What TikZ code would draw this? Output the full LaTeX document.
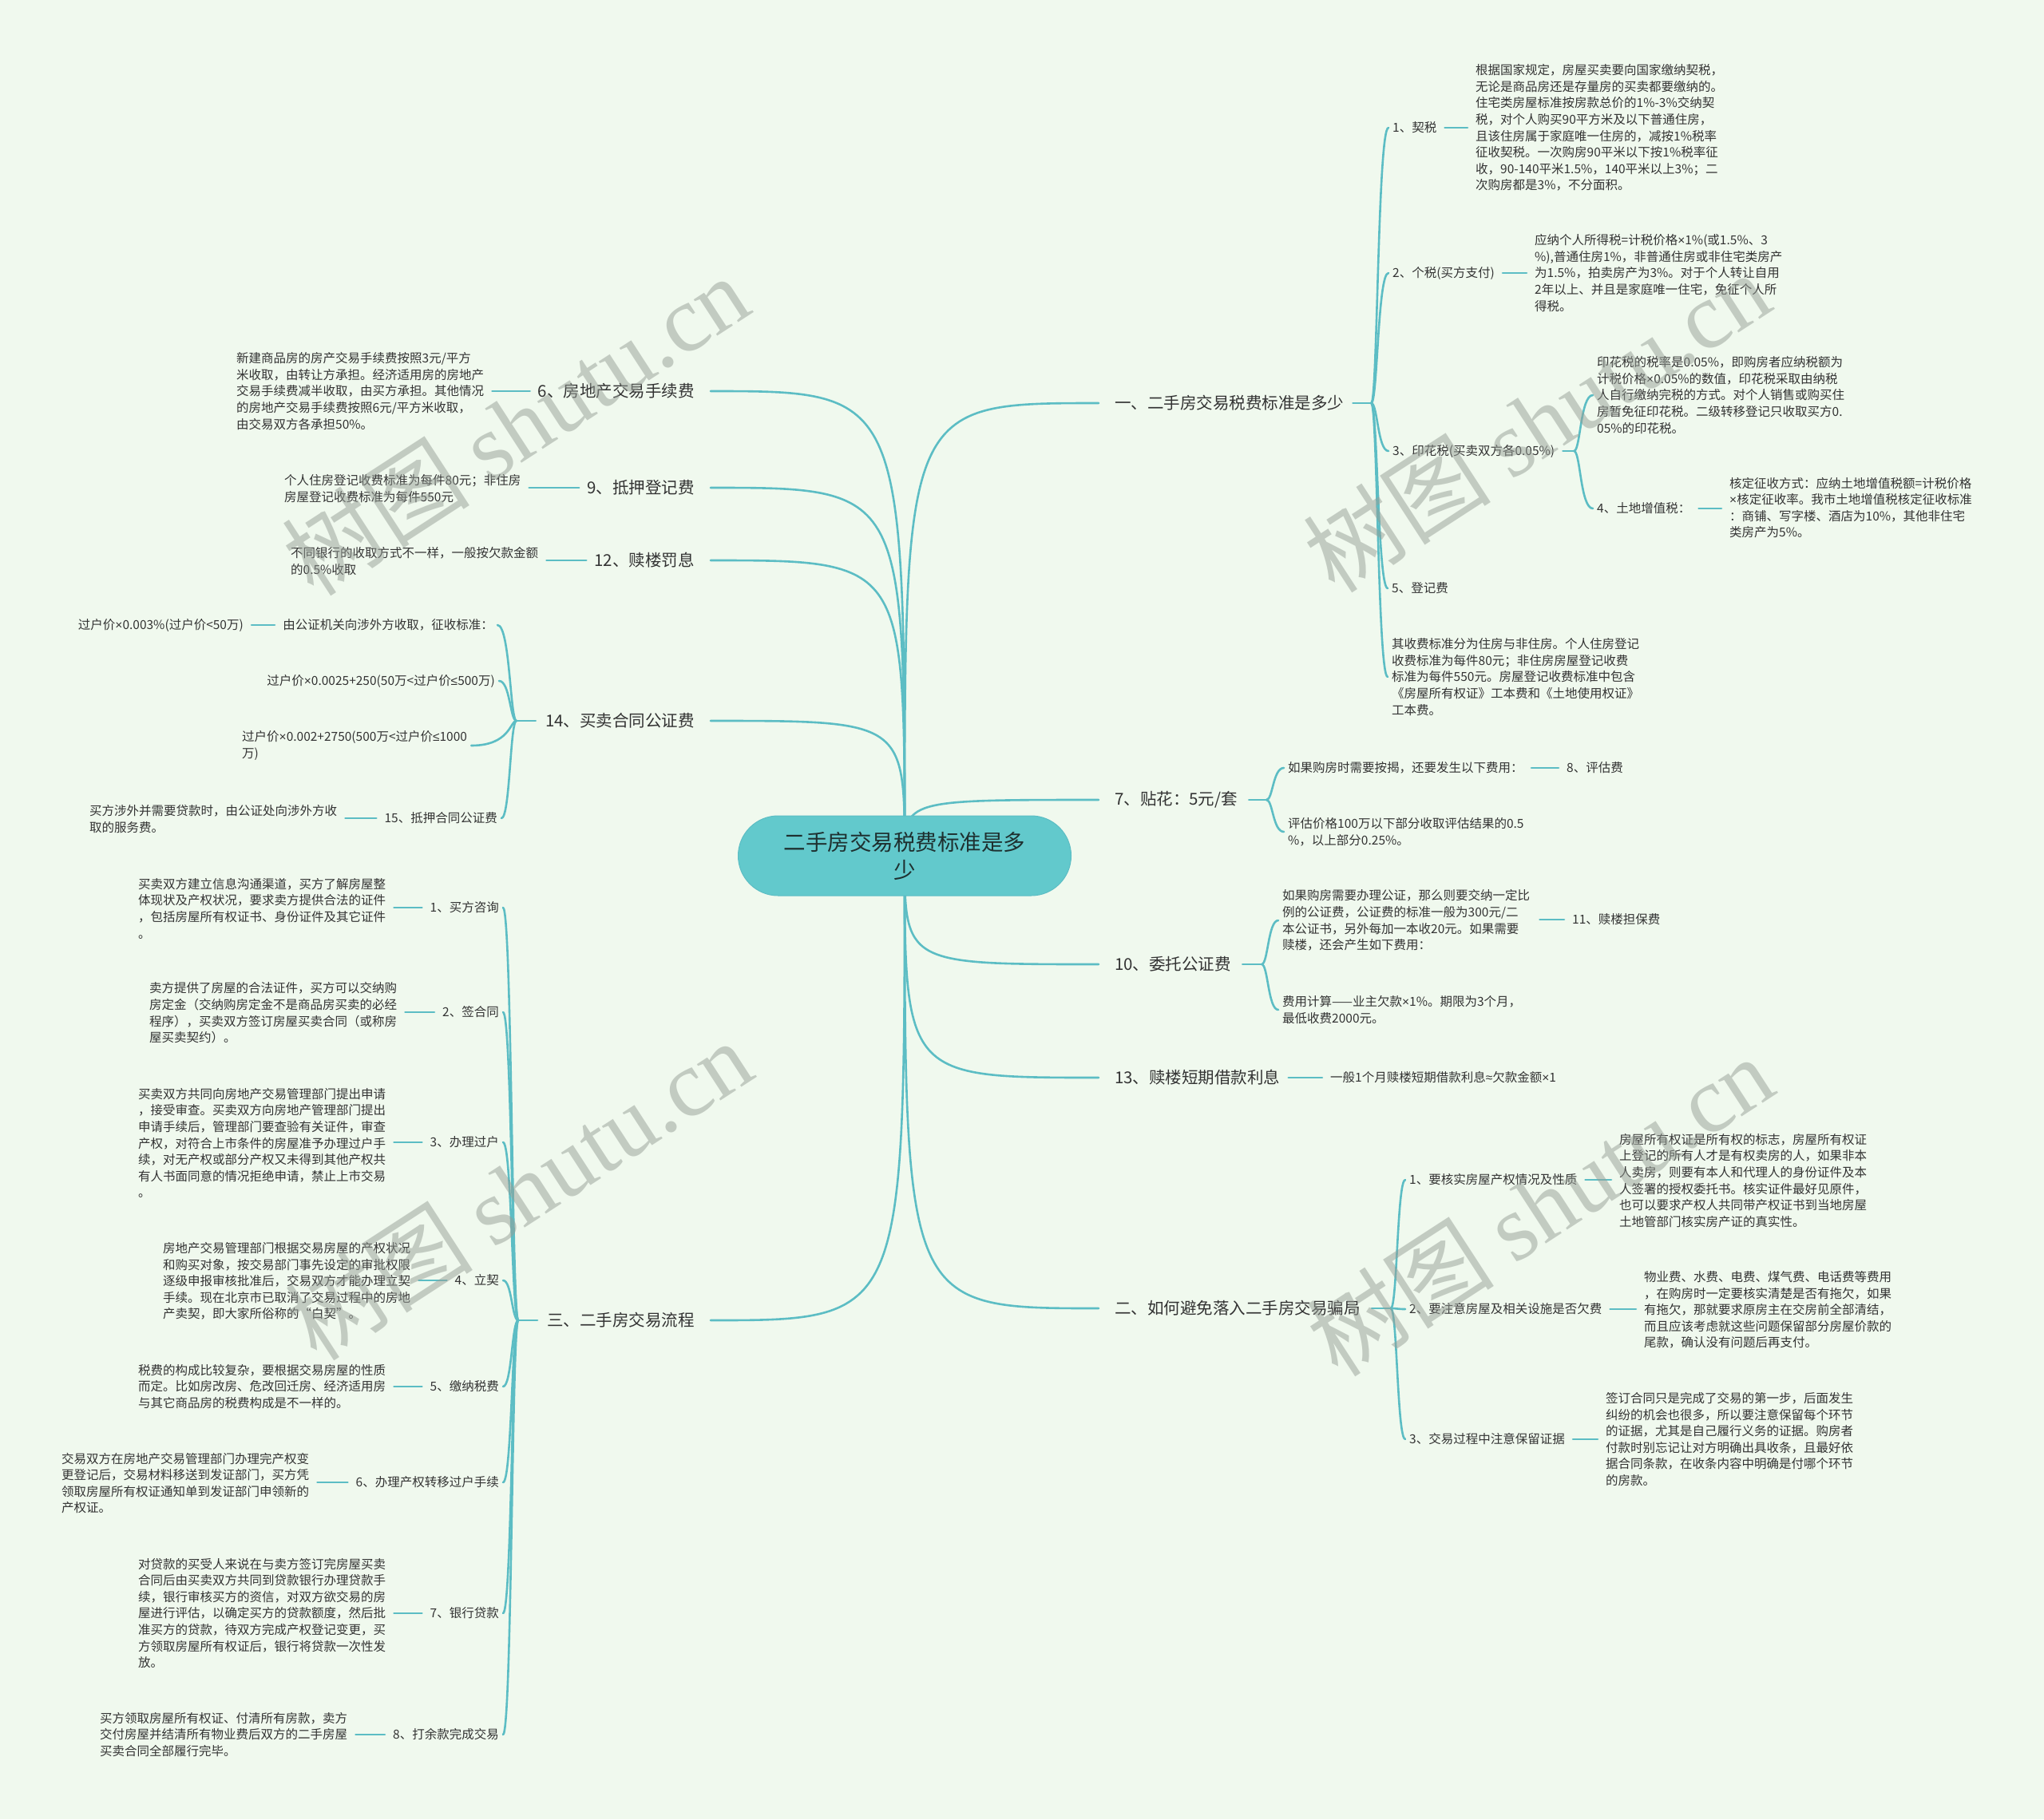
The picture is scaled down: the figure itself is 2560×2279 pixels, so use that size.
\documentclass[tikz,border=0pt]{standalone}
\usepackage{fontspec}
\setmainfont{Noto Sans CJK SC}
\newfontfamily\wmlatin{Liberation Serif}
\newfontfamily\symfont{Liberation Sans}
\newcommand\tms{{\symfont ×}}
\newcommand\leqs{{\symfont ≤}}
\newcommand\apx{{\symfont ≈}}
\usetikzlibrary{calc}
\definecolor{bgc}{RGB}{240,249,238}
\definecolor{tealc}{RGB}{92,189,196}
\definecolor{cfill}{RGB}{98,201,204}
\definecolor{txtc}{RGB}{51,51,51}
\definecolor{roottxt}{RGB}{30,48,48}
\definecolor{wmc}{RGB}{150,158,150}
\pgfdeclarelayer{back}
\pgfdeclarelayer{bg}
\pgfsetlayers{back,bg,main}
\tikzset{
  conn/.style={draw=tealc, line width=2.6pt, line cap=round},
  rootnode/.style={fill=cfill, draw=tealc, line width=1pt, rounded corners=50pt,
    minimum width=417pt, minimum height=100pt, align=center, inner sep=0pt,
    text=roottxt, font=\fontsize{27.5}{35}\selectfont},
  lvone/.style={inner sep=0pt, text=txtc, font=\fontsize{20.5}{26}\selectfont},
  lbl/.style={inner sep=0pt, text=txtc, font=\fontsize{15.5}{20.6}\selectfont},
  para/.style={inner sep=0pt, text=txtc, align=left, font=\fontsize{15.5}{20.6}\selectfont},
  wm/.style={text=wmc, opacity=0.5, inner sep=0pt, rotate=33, font=\fontsize{118}{120}\selectfont}
}
% right-side bracket child: #1 junction, #2 child node
\newcommand\kidR[2]{\draw[conn] (#1) .. controls ($(#1)+(8,0)$) and ($(#1 |- #2.west)+(8,0)$) .. ($(#2.west)+(-5,0)$);}
\newcommand\kidL[2]{\draw[conn] (#1) .. controls ($(#1)+(-8,0)$) and ($(#1 |- #2.east)+(-8,0)$) .. ($(#2.east)+(5,0)$);}
\newcommand\linkR[2]{\draw[conn] ($(#1.east)+(10,0)$) -- ($(#1.east -| #2.west)+(-10,0)$);}
\newcommand\linkL[2]{\draw[conn] ($(#1.west)+(-10,0)$) -- ($(#1.west -| #2.east)+(10,0)$);}
\begin{document}
\begin{tikzpicture}[x=1pt,y=-1pt]
\begin{pgfonlayer}{back}
\path[fill=bgc] (0,0) rectangle (2560,2279);
\end{pgfonlayer}

\node[rootnode] (root) at (1133,1072) {二手房交易税费标准是多\\少};

% ---------------- right level 1
\node[lvone, anchor=west] (r1) at (1396,505) {一、二手房交易税费标准是多少};
\node[lvone, anchor=west] (r2) at (1396,1002) {7、贴花：5元/套};
\node[lvone, anchor=west] (r3) at (1396,1208) {10、委托公证费};
\node[lvone, anchor=west] (r4) at (1396,1350) {13、赎楼短期借款利息};
\node[lvone, anchor=west] (r5) at (1396,1639) {二、如何避免落入二手房交易骗局};

% ---------------- left level 1
\node[lvone, anchor=east] (l1) at (870,490) {6、房地产交易手续费};
\node[lvone, anchor=east] (l2) at (870,611) {9、抵押登记费};
\node[lvone, anchor=east] (l3) at (870,702) {12、赎楼罚息};
\node[lvone, anchor=east] (l4) at (870,903) {14、买卖合同公证费};
\node[lvone, anchor=east] (l5) at (870,1654) {三、二手房交易流程};

% ---------------- R1 subtree
\node[lbl, anchor=west] (r1a) at (1744,160) {1、契税};
\node[para, anchor=west] (r1at) at (1848,160) {根据国家规定，房屋买卖要向国家缴纳契税，\\无论是商品房还是存量房的买卖都要缴纳的。\\住宅类房屋标准按房款总价的1\%-3\%交纳契\\税，对个人购买90平方米及以下普通住房，\\且该住房属于家庭唯一住房的，减按1\%税率\\征收契税。一次购房90平米以下按1\%税率征\\收，90-140平米1.5\%，140平米以上3\%；二\\次购房都是3\%，不分面积。};
\node[lbl, anchor=west] (r1b) at (1744,342) {2、个税(买方支付)};
\node[para, anchor=west] (r1bt) at (1922,342) {应纳个人所得税=计税价格\tms{}1\%(或1.5\%、3\\\%),普通住房1\%，非普通住房或非住宅类房产\\为1.5\%，拍卖房产为3\%。对于个人转让自用\\2年以上、并且是家庭唯一住宅，免征个人所\\得税。};
\node[lbl, anchor=west] (r1c) at (1744,565) {3、印花税(买卖双方各0.05\%)};
\node[para, anchor=west] (r1c1) at (2000,495) {印花税的税率是0.05\%，即购房者应纳税额为\\计税价格\tms{}0.05\%的数值，印花税采取由纳税\\人自行缴纳完税的方式。对个人销售或购买住\\房暂免征印花税。二级转移登记只收取买方0.\\05\%的印花税。};
\node[lbl, anchor=west] (r1c2) at (2000,637) {4、土地增值税：};
\node[para, anchor=west] (r1c2t) at (2166,636) {核定征收方式：应纳土地增值税额=计税价格\\\tms{}核定征收率。我市土地增值税核定征收标准\\：商铺、写字楼、酒店为10\%，其他非住宅\\类房产为5\%。};
\node[lbl, anchor=west] (r1d) at (1743,737) {5、登记费};
\node[para, anchor=west] (r1e) at (1743,848) {其收费标准分为住房与非住房。个人住房登记\\收费标准为每件80元；非住房房屋登记收费\\标准为每件550元。房屋登记收费标准中包含\\《房屋所有权证》工本费和《土地使用权证》\\工本费。};

% ---------------- R2 subtree
\node[lbl, anchor=west] (r2a) at (1613,962) {如果购房时需要按揭，还要发生以下费用：};
\node[lbl, anchor=west] (r2a1) at (1962,962) {8、评估费};
\node[para, anchor=west] (r2b) at (1613,1042) {评估价格100万以下部分收取评估结果的0.5\\\%，以上部分0.25\%。};

% ---------------- R3 subtree
\node[para, anchor=west] (r3a) at (1606,1153) {如果购房需要办理公证，那么则要交纳一定比\\例的公证费，公证费的标准一般为300元/二\\本公证书，另外每加一本收20元。如果需要\\赎楼，还会产生如下费用：};
\node[lbl, anchor=west] (r3a1) at (1969,1152) {11、赎楼担保费};
\node[para, anchor=west] (r3b) at (1606,1265) {费用计算——业主欠款\tms{}1\%。期限为3个月，\\最低收费2000元。};

% ---------------- R4 subtree
\node[lbl, anchor=west] (r4a) at (1666,1350) {一般1个月赎楼短期借款利息\apx{}欠款金额\tms{}1};

% ---------------- R5 subtree
\node[lbl, anchor=west] (r5a) at (1765,1478) {1、要核实房屋产权情况及性质};
\node[para, anchor=west] (r5at) at (2028,1479) {房屋所有权证是所有权的标志，房屋所有权证\\上登记的所有人才是有权卖房的人，如果非本\\人卖房，则要有本人和代理人的身份证件及本\\人签署的授权委托书。核实证件最好见原件，\\也可以要求产权人共同带产权证书到当地房屋\\土地管部门核实房产证的真实性。};
\node[lbl, anchor=west] (r5b) at (1765,1640) {2、要注意房屋及相关设施是否欠费};
\node[para, anchor=west] (r5bt) at (2059,1641) {物业费、水费、电费、煤气费、电话费等费用\\，在购房时一定要核实清楚是否有拖欠，如果\\有拖欠，那就要求原房主在交房前全部清结，\\而且应该考虑就这些问题保留部分房屋价款的\\尾款，确认没有问题后再支付。};
\node[lbl, anchor=west] (r5c) at (1765,1803) {3、交易过程中注意保留证据};
\node[para, anchor=west] (r5ct) at (2011,1803) {签订合同只是完成了交易的第一步，后面发生\\纠纷的机会也很多，所以要注意保留每个环节\\的证据，尤其是自己履行义务的证据。购房者\\付款时别忘记让对方明确出具收条，且最好依\\据合同条款，在收条内容中明确是付哪个环节\\的房款。};

% ---------------- L1-L3
\node[para, anchor=west] (l1t) at (296,490) {新建商品房的房产交易手续费按照3元/平方\\米收取，由转让方承担。经济适用房的房地产\\交易手续费减半收取，由买方承担。其他情况\\的房地产交易手续费按照6元/平方米收取，\\由交易双方各承担50\%。};
\node[para, anchor=west] (l2t) at (356,612) {个人住房登记收费标准为每件80元；非住房\\房屋登记收费标准为每件550元};
\node[para, anchor=west] (l3t) at (364,703) {不同银行的收取方式不一样，一般按欠款金额\\的0.5\%收取};

% ---------------- L4 subtree
\node[lbl, anchor=east] (l4a) at (618,783) {由公证机关向涉外方收取，征收标准：};
\node[lbl, anchor=east] (l4a1) at (305,783) {过户价\tms{}0.003\%(过户价<50万)};
\node[lbl, anchor=east] (l4b) at (620,853) {过户价\tms{}0.0025+250(50万<过户价\leqs{}500万)};
\node[para, anchor=west] (l4c) at (303,934) {过户价\tms{}0.002+2750(500万<过户价\leqs{}1000\\万)};
\node[lbl, anchor=east] (l4d) at (623,1025) {15、抵押合同公证费};
\node[para, anchor=west] (l4d1) at (112,1026) {买方涉外并需要贷款时，由公证处向涉外方收\\取的服务费。};

% ---------------- L5 subtree
\node[lbl, anchor=east] (l5a) at (625,1137) {1、买方咨询};
\node[para, anchor=west] (l5at) at (173,1138) {买卖双方建立信息沟通渠道，买方了解房屋整\\体现状及产权状况，要求卖方提供合法的证件\\，包括房屋所有权证书、身份证件及其它证件\\。};
\node[lbl, anchor=east] (l5b) at (625,1268) {2、签合同};
\node[para, anchor=west] (l5bt) at (187,1269) {卖方提供了房屋的合法证件，买方可以交纳购\\房定金（交纳购房定金不是商品房买卖的必经\\程序），买卖双方签订房屋买卖合同（或称房\\屋买卖契约）。};
\node[lbl, anchor=east] (l5c) at (625,1431) {3、办理过户};
\node[para, anchor=west] (l5ct) at (173,1432) {买卖双方共同向房地产交易管理部门提出申请\\，接受审查。买卖双方向房地产管理部门提出\\申请手续后，管理部门要查验有关证件，审查\\产权，对符合上市条件的房屋准予办理过户手\\续，对无产权或部分产权又未得到其他产权共\\有人书面同意的情况拒绝申请，禁止上市交易\\。};
\node[lbl, anchor=east] (l5d) at (625,1604) {4、立契};
\node[para, anchor=west] (l5dt) at (204,1605) {房地产交易管理部门根据交易房屋的产权状况\\和购买对象，按交易部门事先设定的审批权限\\逐级申报审核批准后，交易双方才能办理立契\\手续。现在北京市已取消了交易过程中的房地\\产卖契，即大家所俗称的“白契”。};
\node[lbl, anchor=east] (l5e) at (625,1737) {5、缴纳税费};
\node[para, anchor=west] (l5et) at (173,1737) {税费的构成比较复杂，要根据交易房屋的性质\\而定。比如房改房、危改回迁房、经济适用房\\与其它商品房的税费构成是不一样的。};
\node[lbl, anchor=east] (l5f) at (625,1857) {6、办理产权转移过户手续};
\node[para, anchor=west] (l5ft) at (77,1858) {交易双方在房地产交易管理部门办理完产权变\\更登记后，交易材料移送到发证部门，买方凭\\领取房屋所有权证通知单到发证部门申领新的\\产权证。};
\node[lbl, anchor=east] (l5g) at (625,2021) {7、银行贷款};
\node[para, anchor=west] (l5gt) at (173,2021) {对贷款的买受人来说在与卖方签订完房屋买卖\\合同后由买卖双方共同到贷款银行办理贷款手\\续，银行审核买方的资信，对双方欲交易的房\\屋进行评估，以确定买方的贷款额度，然后批\\准买方的贷款，待双方完成产权登记变更，买\\方领取房屋所有权证后，银行将贷款一次性发\\放。};
\node[lbl, anchor=east] (l5h) at (625,2173) {8、打余款完成交易};
\node[para, anchor=west] (l5ht) at (125,2173) {买方领取房屋所有权证、付清所有房款，卖方\\交付房屋并结清所有物业费后双方的二手房屋\\买卖合同全部履行完毕。};

% ---------------- connectors
\begin{pgfonlayer}{bg}
% root to level 1
\foreach \n in {r1,r2,r3,r4,r5}{
  \draw[conn] (root.center) .. controls (root.center |- \n.west) .. ($(\n.west)+(-20,0)$);
}
\foreach \n in {l1,l2,l3,l4,l5}{
  \draw[conn] (root.center) .. controls (root.center |- \n.east) .. ($(\n.east)+(20,0)$);
}
% junctions
\coordinate (j1) at ($(r1.east)+(34,0)$);
\draw[conn] ($(r1.east)+(11,0)$) -- (j1);
\foreach \c in {r1a,r1b,r1c,r1d,r1e}{\kidR{j1}{\c}}
\linkR{r1a}{r1at}
\linkR{r1b}{r1bt}
\coordinate (j1c) at ($(r1c.east)+(24,0)$);
\draw[conn] ($(r1c.east)+(10,0)$) -- (j1c);
\kidR{j1c}{r1c1}
\kidR{j1c}{r1c2}
\linkR{r1c2}{r1c2t}

\coordinate (j2) at ($(r2.east)+(36,0)$);
\draw[conn] ($(r2.east)+(14,0)$) -- (j2);
\kidR{j2}{r2a}
\kidR{j2}{r2b}
\linkR{r2a}{r2a1}

\coordinate (j3) at ($(r3.east)+(38,0)$);
\draw[conn] ($(r3.east)+(14,0)$) -- (j3);
\kidR{j3}{r3a}
\kidR{j3}{r3b}
\draw[conn] ($(r3a.east |- r3a1.west)+(12,0)$) -- ($(r3a1.west)+(-10,0)$);

\linkR{r4}{r4a}

\coordinate (j5) at ($(r5.east)+(38,0)$);
\draw[conn] ($(r5.east)+(14,0)$) -- (j5);
\kidR{j5}{r5a}
\kidR{j5}{r5b}
\kidR{j5}{r5c}
\linkR{r5a}{r5at}
\linkR{r5b}{r5bt}
\linkR{r5c}{r5ct}

% left side
\linkL{l1}{l1t}
\linkL{l2}{l2t}
\linkL{l3}{l3t}

\coordinate (k4) at ($(l4.west)+(-36,0)$);
\draw[conn] ($(l4.west)+(-12,0)$) -- (k4);
\foreach \c in {l4a,l4b,l4c,l4d}{\kidL{k4}{\c}}
\linkL{l4a}{l4a1}
\linkL{l4d}{l4d1}

\coordinate (k5) at ($(l5.west)+(-36,0)$);
\draw[conn] ($(l5.west)+(-12,0)$) -- (k5);
\foreach \c in {l5a,l5b,l5c,l5d,l5e,l5f,l5g,l5h}{\kidL{k5}{\c}}
\linkL{l5a}{l5at}
\linkL{l5b}{l5bt}
\linkL{l5c}{l5ct}
\linkL{l5d}{l5dt}
\linkL{l5e}{l5et}
\linkL{l5f}{l5ft}
\linkL{l5g}{l5gt}
\linkL{l5h}{l5ht}
\end{pgfonlayer}

% ---------------- watermarks
\node[wm] (w1) at (645,532) {树图 {\wmlatin shutu.cn}};
\node[wm] (w2) at (1924,528) {树图 {\wmlatin shutu.cn}};
\node[wm] (w3) at (649,1490) {树图 {\wmlatin shutu.cn}};
\node[wm] (w4) at (1928,1510) {树图 {\wmlatin shutu.cn}};
\end{tikzpicture}
\end{document}
